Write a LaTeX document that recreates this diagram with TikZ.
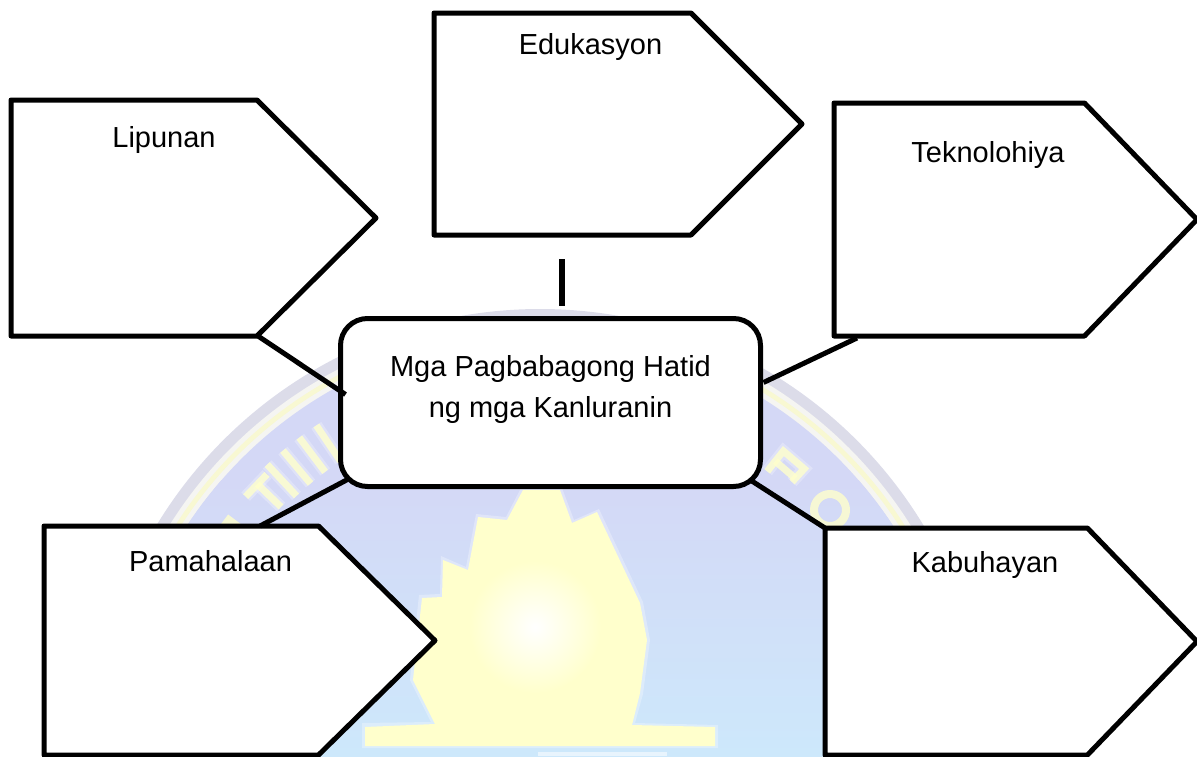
\documentclass[tikz,border=0pt]{standalone}
\usepackage{fontspec}
\setmainfont{Liberation Sans}
\usetikzlibrary{shapes.symbols,calc}
\definecolor{ringgray}{HTML}{DCDCE9}
\definecolor{ringpale}{HTML}{F5F5F2}
\definecolor{ringyellow}{HTML}{F8F8D2}
\definecolor{sealblue}{HTML}{D4D8F6}
\definecolor{sealsky}{HTML}{CDE8FB}
\definecolor{flameyellow}{HTML}{FFFFCC}
\tikzset{
  arrowbox/.style={signal,signal to=east,signal from=nowhere,signal pointer angle=90,
    draw=black,fill=white,line width=5pt,line join=round,inner sep=0pt,outer sep=0pt,anchor=west},
  hubbox/.style={draw=black,fill=white,line width=5pt,rounded corners=27pt,inner sep=0pt,outer sep=0pt,
    minimum width=420pt,minimum height=168pt,align=center,font=\fontsize{29}{40.5}\selectfont},
  boxlabel/.style={font=\fontsize{29}{34}\selectfont,inner sep=0pt,anchor=base},
  link/.style={draw=black,line width=5pt},
  sealstroke/.style={line width=7pt,color=flameyellow,opacity=.8},
  sealglow/.style={line width=12pt,color=white,opacity=.28},
}
\newcommand{\sealpt}[2]{({540+#2*cos(#1)},{757-#2*sin(#1)})}
\begin{document}
\begin{tikzpicture}[x=1pt,y=-1pt]
\useasboundingbox (0,0) rectangle (1197,756);
% watermark seal, cut off by the page
\begin{scope}
\clip (0,0) rectangle (1197,756);
\fill[ringgray] (540,757) circle (448pt);
\fill[ringpale] (540,757) circle (437pt);
\fill[ringyellow] (540,757) circle (432pt);
\fill[ringpale] (540,757) circle (427pt);
\fill[sealblue] (540,757) circle (422pt);
\begin{scope}
\clip (540,757) circle (422pt);
\shade[top color=sealblue,bottom color=sealsky] (100,480) rectangle (980,756);
\end{scope}
% lettering of the seal
\foreach \a in {124,127,130,133} {
  \draw[sealglow] \sealpt{\a}{357} -- \sealpt{\a}{400};
  \draw[sealstroke] \sealpt{\a}{357} -- \sealpt{\a}{400};
}
\draw[sealglow] \sealpt{134}{393} -- \sealpt{138.5}{393};
\draw[sealglow] \sealpt{136}{360} -- \sealpt{136}{393};
\draw[sealstroke] \sealpt{134}{393} -- \sealpt{138.5}{393};
\draw[sealstroke] \sealpt{136}{360} -- \sealpt{136}{393};
\draw[sealstroke,line width=12pt] \sealpt{143}{372} -- \sealpt{143}{395};
\draw[sealglow] \sealpt{51.5}{365} -- \sealpt{51.5}{391} -- \sealpt{47.5}{391} -- \sealpt{47.5}{373};
\draw[sealstroke] \sealpt{51.5}{365} -- \sealpt{51.5}{391} -- \sealpt{47.5}{391} -- \sealpt{47.5}{373};
\draw[sealstroke] \sealpt{51.5}{378} -- \sealpt{47.5}{378};
\draw[sealstroke,line width=8pt] (830,510) circle (16pt);
% flame
\fill[white,opacity=.3] (521,488) -- (562,488) -- (574,520) -- (599,509) -- (643,602) -- (650,640)
  -- (643,694) -- (635,723) -- (718,725) -- (718,748) -- (362,748) -- (362,723) -- (431,722)
  -- (410,680) -- (419,595) -- (440,594) -- (441,556) -- (466,567) -- (476,514) -- (506,517) -- cycle;
\begin{scope}
\clip (523,490) -- (560,490) -- (572,523) -- (597,512) -- (640,603) -- (647,640) -- (640,693)
  -- (632,725) -- (715,727) -- (715,746) -- (365,746) -- (365,727) -- (435,724) -- (413,680)
  -- (422,598) -- (442,597) -- (443,560) -- (468,570) -- (478,517) -- (507,520) -- cycle;
\fill[flameyellow] (360,480) rectangle (720,750);
\shade[inner color=white,outer color=flameyellow] (535,627) circle (66pt);
\end{scope}
\fill[white,opacity=.55] (538,752) rectangle (667,756);
\end{scope}
% boxes
\node[arrowbox,signal pointer angle=89.5,minimum width=365pt,minimum height=236pt] (lipunan) at (11,218) {};
\node[arrowbox,minimum width=368pt,minimum height=222pt] (edukasyon) at (434,124) {};
\node[arrowbox,signal pointer angle=92,minimum width=363pt,minimum height=233pt] (teknolohiya) at (834,219.5) {};
\node[arrowbox,signal pointer angle=89,minimum width=391pt,minimum height=229pt] (pamahalaan) at (44,640.5) {};
\node[arrowbox,signal pointer angle=92,minimum width=372pt,minimum height=227pt] (kabuhayan) at (825,641.5) {};
\node[boxlabel] (lipunanlabel) at (164,147) {Lipunan};
\node[boxlabel] (edukasyonlabel) at (590.5,54) {Edukasyon};
\node[boxlabel] (teknolohiyalabel) at (988,162) {Teknolohiya};
\node[boxlabel] (pamahalaanlabel) at (210.5,571) {Pamahalaan};
\node[boxlabel] (kabuhayanlabel) at (985,572) {Kabuhayan};
% the hub, then the connectors
\node[hubbox] (hub) at (550.5,402.5) {Mga Pagbabagong Hatid\\ng mga Kanluranin\\[-8pt]~};
\coordinate (stubtop) at ($(edukasyon.south west)+(128,24)$);
\coordinate (stubend) at ($(edukasyon.south west)+(128,71)$);
\draw[link,line width=6pt] (stubtop) -- (stubend);
\draw[link] (lipunan.south west) ++(247,0) -- ($(hub.west)+(5,-8)$);
\draw[link] ($(pamahalaan.north west)+(216,0)$) -- ($(hub.south west)+(7,-7)$);
\draw[link] ($(teknolohiya.south west)+(23,2)$) -- ($(hub.east)+(3,-20)$);
\draw[link] (kabuhayan.north west) -- ($(hub.south east)+(-11,-7)$);
\end{tikzpicture}
\end{document}
